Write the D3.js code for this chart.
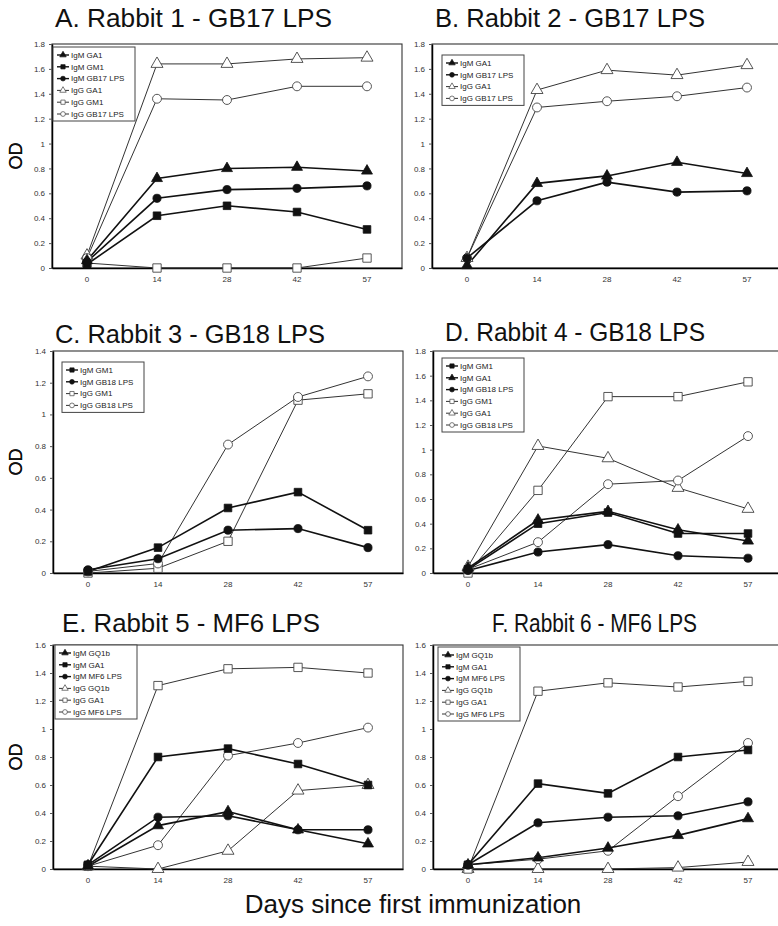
<!DOCTYPE html>
<html>
<head>
<meta charset="utf-8">
<script src="https://cdn.jsdelivr.net/npm/d3@7"></script>
<style>
  body { margin: 0; background: #fff; }
  svg { display: block; }
  text { font-family: "Liberation Sans", Arial, sans-serif; }
</style>
</head>
<body>
<div id="chart"></div>
<script>
// days since first immunization (drawn as equally spaced categories)
const days = ["0", "14", "28", "42", "57"];

// A. Rabbit 1 - GB17 LPS
const r1Names = ["IgM GA1", "IgM GM1", "IgM GB17 LPS", "IgG GA1", "IgG GM1", "IgG GB17 LPS"];
const r1Values = [
  [0.06, 0.72, 0.80, 0.81, 0.78],
  [0.03, 0.42, 0.50, 0.45, 0.31],
  [0.05, 0.56, 0.63, 0.64, 0.66],
  [0.10, 1.64, 1.64, 1.68, 1.69],
  [0.04, 0.00, 0.00, 0.00, 0.08],
  [0.08, 1.36, 1.35, 1.46, 1.46]
];

// B. Rabbit 2 - GB17 LPS
const r2Names = ["IgM GA1", "IgM GB17 LPS", "IgG GA1", "IgG GB17 LPS"];
const r2Values = [
  [0.02, 0.68, 0.74, 0.85, 0.76],
  [0.08, 0.54, 0.69, 0.61, 0.62],
  [0.08, 1.43, 1.59, 1.55, 1.63],
  [0.08, 1.29, 1.34, 1.38, 1.45]
];

// C. Rabbit 3 - GB18 LPS
const r3Names = ["IgM GM1", "IgM GB18 LPS", "IgG GM1", "IgG GB18 LPS"];
const r3Values = [
  [0.01, 0.16, 0.41, 0.51, 0.27],
  [0.02, 0.09, 0.27, 0.28, 0.16],
  [0.00, 0.03, 0.20, 1.09, 1.13],
  [0.01, 0.06, 0.81, 1.11, 1.24]
];

// D. Rabbit 4 - GB18 LPS
const r4Names = ["IgM GM1", "IgM GA1", "IgM GB18 LPS", "IgG GM1", "IgG GA1", "IgG GB18 LPS"];
const r4Values = [
  [0.03, 0.40, 0.49, 0.32, 0.32],
  [0.04, 0.43, 0.50, 0.35, 0.26],
  [0.02, 0.17, 0.23, 0.14, 0.12],
  [0.00, 0.67, 1.43, 1.43, 1.55],
  [0.05, 1.03, 0.93, 0.69, 0.52],
  [0.03, 0.25, 0.72, 0.75, 1.11]
];

// E. Rabbit 5 - MF6 LPS
const r5Names = ["IgM GQ1b", "IgM GA1", "IgM MF6 LPS", "IgG GQ1b", "IgG GA1", "IgG MF6 LPS"];
const r5Values = [
  [0.02, 0.31, 0.41, 0.28, 0.18],
  [0.03, 0.80, 0.86, 0.75, 0.60],
  [0.03, 0.37, 0.38, 0.28, 0.28],
  [0.02, 0.00, 0.13, 0.56, 0.60],
  [0.02, 1.31, 1.43, 1.44, 1.40],
  [0.02, 0.17, 0.81, 0.90, 1.01]
];

// F. Rabbit 6 - MF6 LPS
const r6Names = ["IgM GQ1b", "IgM GA1", "IgM MF6 LPS", "IgG GQ1b", "IgG GA1", "IgG MF6 LPS"];
const r6Values = [
  [0.03, 0.08, 0.15, 0.24, 0.36],
  [0.03, 0.61, 0.54, 0.80, 0.85],
  [0.03, 0.33, 0.37, 0.38, 0.48],
  [0.00, 0.00, 0.00, 0.01, 0.05],
  [0.00, 1.27, 1.33, 1.30, 1.34],
  [0.03, 0.07, 0.13, 0.52, 0.90]
];

// marker shapes (style), IgM filled / IgG open
const r1Marks = ["triangle", "square", "circle", "triangle", "square", "circle"];
const r2Marks = ["triangle", "circle", "triangle", "circle"];
const r3Marks = ["square", "circle", "square", "circle"];
const r4Marks = ["square", "triangle", "circle", "square", "triangle", "circle"];
const r5Marks = ["triangle", "square", "circle", "triangle", "square", "circle"];
const r6Marks = r5Marks;

const width = 778, height = 926;

// layout of each panel
const panels = [
  {title: "A. Rabbit 1 - GB17 LPS", names: r1Names, values: r1Values, marks: r1Marks, yMax: 1.8,
   left: 52, right: 402, top: 44, bottom: 268, tx: 55, ty: 27, tw: 277, lx: 53, ly: 47},
  {title: "B. Rabbit 2 - GB17 LPS", names: r2Names, values: r2Values, marks: r2Marks, yMax: 1.8,
   left: 432, right: 782, top: 44, bottom: 268, tx: 435, ty: 27, tw: 270, lx: 442, ly: 55},
  {title: "C. Rabbit 3 - GB18 LPS", names: r3Names, values: r3Values, marks: r3Marks, yMax: 1.4,
   left: 53, right: 403, top: 351, bottom: 573, tx: 55, ty: 343, tw: 270, lx: 62, ly: 362},
  {title: "D. Rabbit 4 - GB18 LPS", names: r4Names, values: r4Values, marks: r4Marks, yMax: 1.8,
   left: 433, right: 783, top: 351, bottom: 573, tx: 445, ty: 341, tw: 260, lx: 442, ly: 358},
  {title: "E. Rabbit 5 - MF6 LPS", names: r5Names, values: r5Values, marks: r5Marks, yMax: 1.6,
   left: 53, right: 403, top: 645, bottom: 869, tx: 62, ty: 632, tw: 258, lx: 55, ly: 645},
  {title: "F. Rabbit 6 - MF6 LPS", names: r6Names, values: r6Values, marks: r6Marks, yMax: 1.6,
   left: 433, right: 783, top: 645, bottom: 869, tx: 492, ty: 632, tw: 205, lx: 438, ly: 647}
];

const symbolTypes = {triangle: d3.symbolTriangle, square: d3.symbolSquare, circle: d3.symbolCircle};
const symbolSize = {triangle: 52, square: 58, circle: 52};

var svg = d3.select("#chart")
    .append("svg")
    .attr("width", width)
    .attr("height", height);

panels.forEach(function(p) {
  var g = svg.append("g");

  var x = d3.scaleBand().domain(days).range([p.left, p.right]);
  var y = d3.scaleLinear().domain([0, p.yMax]).range([p.bottom, p.top]);
  var cx = function(i) { return x(days[i]) + x.bandwidth() / 2; };

  // title
  g.append("text")
      .attr("x", p.tx)
      .attr("y", p.ty)
      .attr("textLength", p.tw)
      .attr("lengthAdjust", "spacingAndGlyphs")
      .style("font-size", "26px")
      .style("fill", "#111")
      .text(p.title);

  // y axis label
  g.append("text")
      .attr("transform", "translate(22," + ((p.top + p.bottom) / 2) + ") rotate(-90)")
      .attr("text-anchor", "middle")
      .style("font-size", "18px")
      .style("fill", "#111")
      .text("OD");

  // frame
  g.append("rect")
      .attr("x", p.left)
      .attr("y", p.top)
      .attr("width", p.right - p.left)
      .attr("height", p.bottom - p.top)
      .style("fill", "none")
      .style("stroke", "#333")
      .style("stroke-width", 1.1);

  // axes
  var yTicks = d3.range(0, p.yMax + 0.001, 0.2);
  var yAxis = g.append("g")
      .attr("transform", "translate(" + p.left + ",0)")
      .call(d3.axisLeft(y).tickValues(yTicks).tickSize(3).tickSizeOuter(0).tickPadding(4)
            .tickFormat(d3.format("~g")));
  var xAxis = g.append("g")
      .attr("transform", "translate(0," + p.bottom + ")")
      .call(d3.axisBottom(x).tickSize(0).tickPadding(8));
  [yAxis, xAxis].forEach(function(a) {
    a.select(".domain").style("stroke", "#000").style("stroke-width", 1.5);
    a.selectAll("text").style("font-size", "8px").style("fill", "#333")
        .style("font-family", '"Liberation Sans", Arial, sans-serif');
    a.selectAll("line").style("stroke", "#555");
  });

  // series
  var series = p.names.map(function(name, k) {
    return {name: name, vals: p.values[k], mark: p.marks[k], igm: name.indexOf("IgM") === 0};
  });

  var line = d3.line()
      .x(function(d, i) { return cx(i); })
      .y(function(d) { return y(d); });

  // IgG first so the darker IgM lines sit on top
  var ordered = series.filter(function(s) { return !s.igm; }).concat(series.filter(function(s) { return s.igm; }));

  g.append("g").selectAll("path.line")
      .data(ordered)
      .enter().append("path")
      .attr("class", "line")
      .attr("d", function(s) { return line(s.vals); })
      .style("fill", "none")
      .style("stroke", function(s) { return s.igm ? "#111" : "#333"; })
      .style("stroke-width", function(s) { return s.igm ? 1.6 : 1; });

  ordered.forEach(function(s) {
    var sym = d3.symbol().type(symbolTypes[s.mark]).size(symbolSize[s.mark] * (s.igm ? 1 : 1.2));
    g.append("g").selectAll("path")
        .data(s.vals)
        .enter().append("path")
        .attr("d", sym)
        .attr("transform", function(d, i) { return "translate(" + cx(i) + "," + y(d) + ")"; })
        .style("fill", s.igm ? "#111" : "#fff")
        .style("stroke", s.igm ? "#111" : "#444")
        .style("stroke-width", s.igm ? 0.8 : 0.9);
  });

  // legend
  var rowH = 11.8;
  var lg = g.append("g").attr("transform", "translate(" + p.lx + "," + p.ly + ")");
  lg.append("rect")
      .attr("width", 82)
      .attr("height", 8 + (series.length - 1) * rowH + 7)
      .style("fill", "#fff")
      .style("stroke", "#444")
      .style("stroke-width", 1);
  var row = lg.selectAll("g.row")
      .data(series)
      .enter().append("g")
      .attr("class", "row")
      .attr("transform", function(s, i) { return "translate(0," + (8 + i * rowH) + ")"; });
  row.append("line")
      .attr("x1", 4).attr("x2", 16)
      .style("stroke", function(s) { return s.igm ? "#111" : "#333"; })
      .style("stroke-width", function(s) { return s.igm ? 1.4 : 1; });
  row.append("path")
      .attr("transform", "translate(10,0)")
      .attr("d", function(s) { return d3.symbol().type(symbolTypes[s.mark]).size(18)(); })
      .style("fill", function(s) { return s.igm ? "#111" : "#fff"; })
      .style("stroke", function(s) { return s.igm ? "#111" : "#444"; })
      .style("stroke-width", 0.7);
  row.append("text")
      .attr("x", 18)
      .attr("dy", "0.35em")
      .style("font-size", "8px")
      .style("fill", "#222")
      .text(function(s) { return s.name; });
});

// shared x axis title
svg.append("text")
    .attr("x", 413)
    .attr("y", 913)
    .attr("text-anchor", "middle")
    .style("font-size", "26px")
    .style("fill", "#111")
    .text("Days since first immunization");
</script>
</body>
</html>
